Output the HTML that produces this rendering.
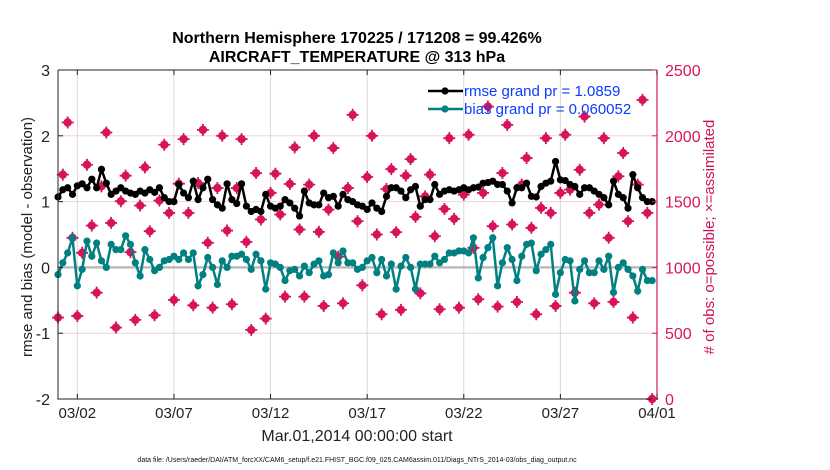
<!DOCTYPE html>
<html><head><meta charset="utf-8"><style>
body{margin:0;background:#fff;width:830px;height:470px;overflow:hidden}
svg{display:block;font-family:"Liberation Sans",sans-serif}
</style></head><body>
<svg id="chart" width="830" height="470" viewBox="0 0 830 470" xmlns="http://www.w3.org/2000/svg">
<text x="357" y="43" text-anchor="middle" font-size="16" font-weight="bold">Northern Hemisphere 170225 / 171208 = 99.426%</text>
<text x="357" y="62" text-anchor="middle" font-size="16" font-weight="bold">AIRCRAFT_TEMPERATURE @ 313 hPa</text>
<text transform="translate(32,237) rotate(-90)" text-anchor="middle" font-size="15" fill="#222">rmse and bias (model - observation)</text>
<text transform="translate(714,237) rotate(-90)" text-anchor="middle" font-size="15" fill="#d0105a"># of obs: o=possible; ×=assimilated</text>
<text x="357" y="441" text-anchor="middle" font-size="16" fill="#222">Mar.01,2014 00:00:00 start</text>
<text x="357" y="462" text-anchor="middle" font-size="7" fill="#111">data file: /Users/raeder/DAI/ATM_forcXX/CAM6_setup/f.e21.FHIST_BGC.f09_025.CAM6assim.011/Diags_NTrS_2014-03/obs_diag_output.nc</text>
<g id="plot"></g>
</svg>
<script>
const dateLabels=["03/02","03/07","03/12","03/17","03/22","03/27","04/01"];
const dateDays=[1,6,11,16,21,26,31];
const leftTicks=[-2,-1,0,1,2,3];
const rightTicks=[0,500,1000,1500,2000,2500];
const rmse=[1.07,1.18,1.21,1.11,1.24,1.27,1.21,1.34,1.21,1.49,1.28,1.11,1.16,1.21,1.16,1.13,1.11,1.16,1.13,1.18,1.14,1.21,1.06,1.0,1.0,1.26,1.13,1.06,1.31,1.03,1.21,1.34,1.03,0.95,0.9,1.27,1.03,0.97,1.27,0.93,0.85,
0.88,0.85,1.11,0.93,0.9,0.93,1.03,0.98,0.9,0.78,1.16,0.98,0.95,0.95,1.13,1.06,1.08,0.93,1.11,1.03,1.0,0.95,0.93,0.88,0.98,0.9,0.85,1.08,1.21,1.21,1.16,1.06,1.18,1.23,0.93,1.03,1.03,1.26,1.11,1.16,1.18,
1.16,1.18,1.21,1.18,1.21,1.22,1.28,1.29,1.31,1.26,1.26,1.16,0.98,1.21,1.21,1.28,1.08,1.07,1.23,1.28,1.31,1.61,1.33,1.32,1.26,1.23,1.11,1.21,1.21,1.16,1.11,1.06,0.95,1.31,1.11,1.06,0.9,1.41,1.21,1.06,1.0,1.0];
const bias=[-0.11,0.07,0.22,0.45,-0.28,-0.03,0.40,0.17,0.37,0.10,0.0,0.35,0.27,0.27,0.48,0.35,0.07,-0.13,0.27,0.12,-0.05,0.0,0.10,0.12,0.17,0.12,0.22,0.12,0.22,-0.28,-0.11,0.15,0.0,-0.26,0.10,0.0,0.17,0.17,0.2,0.12,-0.03,
0.20,0.10,-0.33,0.07,0.05,0.0,-0.2,-0.05,-0.03,-0.13,0.02,-0.08,0.05,0.1,-0.13,-0.11,0.22,0.07,0.25,0.07,0.07,-0.03,0.0,0.1,0.15,-0.08,0.12,-0.13,0.05,-0.33,0.02,0.15,0.0,-0.33,0.05,0.05,0.05,0.17,0.07,0.12,0.22,
0.22,0.25,0.25,0.22,0.45,-0.16,0.15,0.3,0.45,-0.28,0.07,0.30,0.12,-0.2,0.17,0.35,0.37,-0.05,0.2,0.27,0.35,-0.41,-0.08,0.12,0.1,-0.51,-0.03,0.1,-0.08,-0.08,0.1,-0.03,0.17,-0.38,0.0,0.07,-0.03,-0.13,-0.36,-0.03,-0.2,-0.2];
const nobs=[619,1705,2101,1225,631,1111,1780,1318,808,1616,2025,1338,543,1503,1697,1116,601,1470,1760,1275,636,1508,1932,1414,753,1636,1975,1414,712,1641,2045,1187,694,1603,2000,1280,720,1603,1975,1194,525,
1717,1364,611,1566,1712,1402,778,1634,1912,1288,778,1629,2000,1270,707,1439,1907,1081,727,1603,2159,1351,864,1687,2000,1250,644,1596,1747,1268,677,1697,1823,1384,803,1540,1705,1237,682,1444,1982,
1369,694,1553,2008,1149,758,1566,2222,1313,702,1717,2083,1326,737,1629,1831,1301,644,1452,1982,1414,707,1566,2008,1591,808,1742,2146,1414,727,1477,1982,1225,737,1692,1869,1351,619,1629,2273,1414,0];

const NS="http://www.w3.org/2000/svg";
const g=document.getElementById('plot');
const X0=58,X1=657,Y0=70,Y1=399;
const xs=d=>X0+(X1-X0)*d/31;
const yl=v=>Y1-(Y1-Y0)*(v+2)/5;
const yr=v=>Y1-(Y1-Y0)*v/2500;
function mk(tag,attrs,parent){const e=document.createElementNS(NS,tag);for(const k in attrs)e.setAttribute(k,attrs[k]);(parent||g).appendChild(e);return e;}

rightTicks.forEach((t,i)=>{
 const l=mk('line',{x1:X0,x2:X1,y1:yr(t),y2:yr(t),stroke:'#f0d2dc','stroke-width':1});
 
 
});
dateDays.forEach((d,i)=>{
 const l=mk('line',{x1:xs(d),x2:xs(d),y1:Y0,y2:Y1,stroke:'#d8d8d8','stroke-width':1});
 
 
});
const zl=mk('line',{x1:X0,x2:X1,y1:yl(0),y2:yl(0),stroke:'#bbbbbb','stroke-width':2.5});



nobs.forEach((v,i)=>{
 const d=i*0.25, cx=xs(d), cy=yr(v);
 const m=mk('g',{});
 
 
 mk('circle',{cx:cx,cy:cy,r:4.2,fill:'#d6135c'},m);
 mk('path',{d:`M${cx-6} ${cy}H${cx+6}M${cx} ${cy-6}V${cy+6}`,stroke:'#d6135c','stroke-width':1.8},m);
});

function series(vals,color,name){
 const pts=vals.map((v,i)=>xs(i*0.25)+','+yl(v)).join(' ');
 const pl=mk('polyline',{points:pts,fill:'none',stroke:color,'stroke-width':2.5});
 
 
 vals.forEach((v,i)=>{
  const c=mk('circle',{cx:xs(i*0.25),cy:yl(v),r:3.6,fill:color});
  
  
 });
}
series(bias,'#008080','bias');
series(rmse,'#000000','rmse');

const ax=mk('path',{d:`M${X0} ${Y0}V${Y1}H${X1}M${X0} ${Y0}H${X1}`,fill:'none',stroke:'#222','stroke-width':1});


const ra=mk('line',{x1:X1,x2:X1,y1:Y0,y2:Y1,stroke:'#d81560','stroke-width':1.2});


leftTicks.forEach(t=>{
 mk('line',{x1:X0,x2:X0+5,y1:yl(t),y2:yl(t),stroke:'#222'});
 const tx=mk('text',{x:X0-8,y:yl(t)+6,'text-anchor':'end','font-size':16,fill:'#222'});
 tx.textContent=t;
 
 
});
rightTicks.forEach(t=>{
 mk('line',{x1:X1-5,x2:X1,y1:yr(t),y2:yr(t),stroke:'#d81560'});
 const tx=mk('text',{x:X1+8,y:yr(t)+6,'font-size':16,fill:'#d81560'});
 tx.textContent=t;
 
 
});
dateDays.forEach((d,i)=>{
 mk('line',{x1:xs(d),x2:xs(d),y1:Y1,y2:Y1-5,stroke:'#222'});
 mk('line',{x1:xs(d),x2:xs(d),y1:Y0,y2:Y0+5,stroke:'#222'});
 const tx=mk('text',{x:xs(d),y:418,'text-anchor':'middle','font-size':15,fill:'#222'});
 tx.textContent=dateLabels[i];
 
 
});

const lg=mk('g',{});


[['rmse grand pr = 1.0859','#000',91],['bias grand pr = 0.060052','#008080',109]].forEach(([txt,c,y])=>{
 const e=mk('g',{},lg);
 
 
 mk('line',{x1:428,x2:463,y1:y,y2:y,stroke:c,'stroke-width':2.5},e);
 mk('circle',{cx:445,cy:y,r:3.6,fill:c},e);
 const t=mk('text',{x:464,y:y+5,'font-size':15,fill:'#0a3cff'},e);
 t.textContent=txt;
});
</script>
</body></html>
